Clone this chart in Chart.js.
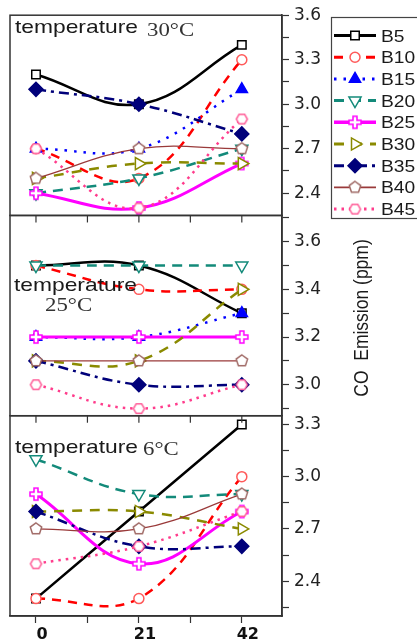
<!DOCTYPE html>
<html>
<head>
<meta charset="utf-8">
<title>CO emission</title>
<script src="https://cdn.jsdelivr.net/npm/chart.js"></script>
<style>
  body { margin: 0; background: #fff; }
  #co-chart { display: block; }
</style>
</head>
<body>
<canvas id="co-chart" width="417" height="642"></canvas>
<script>
// storage days on the x axis
var days = [0, 21, 42];
var blends = ['B5', 'B10', 'B15', 'B20', 'B25', 'B30', 'B35', 'B40', 'B45'];
var panelTemps = ['30\u00B0C', '25\u00B0C', '6\u00B0C'];

// CO emission (ppm), one row per blend (same order as blends)
var temp30 = [
  [3.2, 3.0, 3.4],
  [2.7, 2.5, 3.3],
  [2.7, 2.7, 3.1],
  [2.4, 2.5, 2.7],
  [2.4, 2.3, 2.6],
  [2.5, 2.6, 2.6],
  [3.1, 3.0, 2.8],
  [2.5, 2.7, 2.7],
  [2.7, 2.3, 2.9]
];
var temp25 = [
  [3.5, 3.5, 3.3],
  [3.5, 3.4, 3.4],
  [3.2, 3.2, 3.3],
  [3.5, 3.5, 3.5],
  [3.2, 3.2, 3.2],
  [3.1, 3.1, 3.4],
  [3.1, 3.0, 3.0],
  [3.1, 3.1, 3.1],
  [3.0, 2.9, 3.0]
];
var temp6 = [
  [2.3, 2.8, 3.3],
  [2.3, 2.3, 3.0],
  [null, null, null],
  [3.1, 2.9, 2.9],
  [2.9, 2.5, 2.8],
  [2.8, 2.8, 2.7],
  [2.8, 2.6, 2.6],
  [2.7, 2.7, 2.9],
  [2.5, 2.6, 2.8]
];

// tick labels of the three stacked y axes
var ticks30 = [2.4, 2.7, 3.0, 3.3, 3.6];
var ticks25 = [3.0, 3.2, 3.4, 3.6];
var ticks6 = [2.4, 2.7, 3.0, 3.3];

function polygonMarker(sides, r, color, start) {
  var c = document.createElement('canvas');
  var s = Math.ceil(2 * r + 4);
  c.width = s;
  c.height = s;
  var g = c.getContext('2d');
  g.beginPath();
  for (var k = 0; k < sides; k++) {
    var a = start + k * 2 * Math.PI / sides;
    var px = s / 2 + r * Math.cos(a);
    var py = s / 2 + r * Math.sin(a);
    if (k === 0) g.moveTo(px, py); else g.lineTo(px, py);
  }
  g.closePath();
  g.fillStyle = '#fff';
  g.fill();
  g.strokeStyle = color;
  g.lineWidth = 1.5;
  g.stroke();
  return c;
}

function plusMarker(r, a, color) {
  var c = document.createElement('canvas');
  var s = Math.ceil(2 * r + 4);
  c.width = s;
  c.height = s;
  var g = c.getContext('2d');
  var pts = [[-a, -r], [a, -r], [a, -a], [r, -a], [r, a], [a, a], [a, r], [-a, r], [-a, a], [-r, a], [-r, -a], [-a, -a]];
  g.beginPath();
  pts.forEach(function(p, k) {
    if (k === 0) g.moveTo(s / 2 + p[0], s / 2 + p[1]); else g.lineTo(s / 2 + p[0], s / 2 + p[1]);
  });
  g.closePath();
  g.fillStyle = '#fff';
  g.fill();
  g.strokeStyle = color;
  g.lineWidth = 1.5;
  g.stroke();
  return c;
}

var seriesStyle = [
  {color: '#000000', dash: [], width: 2.5, point: 'rect', radius: 6, fill: '#fff'},
  {color: '#ff0000', dash: [9, 7], width: 2.5, point: 'circle', radius: 5, fill: '#fff', pointColor: '#ff5a5a'},
  {color: '#0000ff', dash: [2.5, 7], width: 2.5, point: 'triangle', radius: 6.5, fill: '#0000ff'},
  {color: '#138a7a', dash: [10, 7], width: 2.5, point: 'triangle', rotation: 180, radius: 7, fill: '#fff'},
  {color: '#ff00ff', dash: [], width: 3, point: plusMarker(6, 2, '#ff00ff'), radius: 7},
  {color: '#8a8a00', dash: [10, 8], width: 2.5, point: 'triangle', rotation: 90, radius: 7, fill: '#fff'},
  {color: '#00007a', dash: [10, 5, 3, 5], width: 2.5, point: 'rectRot', radius: 7, fill: '#00007a'},
  {color: '#9a3a3a', dash: [], width: 1.3, point: polygonMarker(5, 6, '#a06a66', -Math.PI / 2), radius: 6},
  {color: '#ff3c8c', dash: [2.5, 5], width: 2.5, point: polygonMarker(6, 5.5, '#ff5a96', 0), radius: 6}
];

var datasets = [];
[[temp30, 'y30'], [temp25, 'y25'], [temp6, 'y6']].forEach(function(panel) {
  panel[0].forEach(function(row, i) {
    var st = seriesStyle[i];
    datasets.push({
      label: blends[i],
      yAxisID: panel[1],
      // later blends are painted on top, as in the original plot
      order: blends.length - i,
      data: days.map(function(d, k) { return {x: d, y: row[k]}; }),
      borderColor: st.color,
      borderWidth: st.width,
      borderDash: st.dash,
      tension: 0.4,
      fill: false,
      pointStyle: st.point,
      pointRadius: st.radius,
      pointRotation: st.rotation || 0,
      pointBackgroundColor: st.fill || '#fff',
      pointBorderColor: st.pointColor || st.color,
      pointBorderWidth: 1.5
    });
  });
});

function panelAxis(min, max, major, minor) {
  return {
    type: 'linear',
    position: 'right',
    stack: 'panels',
    stackWeight: 1,
    min: min,
    max: max,
    border: {display: true, color: '#333', width: 1.5},
    grid: {drawOnChartArea: false, drawTicks: true, tickLength: 7, color: '#333', tickWidth: 1.2},
    ticks: {
      autoSkip: false,
      padding: 5,
      color: '#222',
      font: {family: 'DejaVu Sans', size: 17},
      callback: function(v) {
        return major.indexOf(v) >= 0 ? v.toFixed(1) : '';
      }
    },
    afterBuildTicks: function(axis) {
      axis.ticks = major.concat(minor).sort().map(function(v) { return {value: v}; });
    },
    afterFit: function(axis) {
      axis.width = 135;
    }
  };
}

function stretchText(ctx, text, x, y, font, color) {
  ctx.save();
  ctx.translate(x, y);
  ctx.scale(1.2, 1);
  ctx.font = font;
  ctx.fillStyle = color;
  ctx.textAlign = 'left';
  ctx.textBaseline = 'alphabetic';
  ctx.fillText(text, 0, 0);
  ctx.restore();
}

// offsets of the "temperature" notes from each panel's top-left corner
var noteSpots = [
  {dx: 5, dy: 18, tx: 137, ty: 21},
  {dx: 4, dy: 76, tx: 35, ty: 96},
  {dx: 5, dy: 37, tx: 133, ty: 39}
];

var panelDecor = {
  id: 'panelDecor',
  afterDraw: function(chart) {
    var ctx = chart.ctx;
    var x = chart.scales.x;
    ctx.save();
    ctx.strokeStyle = '#333';
    ctx.lineWidth = 1.5;
    ['y30', 'y25', 'y6'].forEach(function(id, i) {
      var s = chart.scales[id];
      ctx.strokeRect(x.left, s.top, x.right - x.left, s.bottom - s.top);
      if (i > 0) {
        ctx.lineWidth = 1.2;
        x.ticks.forEach(function(t) {
          var px = x.getPixelForValue(t.value);
          ctx.beginPath();
          ctx.moveTo(px, s.top);
          ctx.lineTo(px, s.top + 7);
          ctx.stroke();
        });
        ctx.lineWidth = 1.5;
      }
      var spot = noteSpots[i];
      stretchText(ctx, 'temperature', x.left + spot.dx, s.top + spot.dy, '19px "Liberation Sans"', '#1a1a1a');
      stretchText(ctx, panelTemps[i], x.left + spot.tx, s.top + spot.ty, '19px "Liberation Serif"', '#333');
    });

    // legend box, partly cut off on the right like the original
    ctx.strokeStyle = '#444';
    ctx.lineWidth = 1.2;
    ctx.strokeRect(331.5, 17.5, 120, 201);
    blends.forEach(function(name, i) {
      var st = seriesStyle[i];
      var y = 35.5 + i * 21.7;
      ctx.save();
      ctx.strokeStyle = st.color;
      ctx.lineWidth = st.width + 0.5;
      ctx.setLineDash(st.dash);
      ctx.beginPath();
      ctx.moveTo(334, y);
      ctx.lineTo(376, y);
      ctx.stroke();
      ctx.setLineDash([]);
      ctx.fillStyle = st.fill || '#fff';
      ctx.strokeStyle = st.pointColor || st.color;
      ctx.lineWidth = 1.5;
      Chart.helpers.drawPoint(ctx, {pointStyle: st.point, radius: st.radius, rotation: st.rotation || 0, borderWidth: 1.5}, 355, y);
      ctx.restore();
      stretchText(ctx, name, 381, y + 6, '16px "Liberation Sans"', '#1a1a1a');
    });

    // y axis title, reading upwards
    ctx.save();
    ctx.translate(362, 318);
    ctx.rotate(-Math.PI / 2);
    ctx.scale(1, 1.2);
    ctx.font = '17.5px "Liberation Sans"';
    ctx.fillStyle = '#1a1a1a';
    ctx.textAlign = 'center';
    ctx.textBaseline = 'middle';
    ctx.fillText('CO  Emission (ppm)', 0, 0);
    ctx.restore();
    ctx.restore();
  }
};

var ctx = document.getElementById('co-chart').getContext('2d');
var coChart = new Chart(ctx, {
  type: 'line',
  data: {datasets: datasets},
  plugins: [panelDecor],
  options: {
    responsive: false,
    animation: false,
    layout: {padding: {left: 10, top: 15, right: 0, bottom: 0}},
    plugins: {
      legend: {display: false},
      tooltip: {enabled: false}
    },
    scales: {
      y30: panelAxis(2.25, 3.6, ticks30, [2.55, 2.85, 3.15, 3.45]),
      y25: panelAxis(2.87, 3.71, ticks25, [2.9, 3.1, 3.3, 3.5, 3.7]),
      y6: panelAxis(2.2, 3.35, ticks6, [2.25, 2.55, 2.85, 3.15]),
      x: {
        type: 'linear',
        position: 'bottom',
        min: -5.3,
        max: 50.2,
        border: {display: true, color: '#333', width: 1.5},
        grid: {drawOnChartArea: false, drawTicks: true, tickLength: 7, color: '#333', tickWidth: 1.2},
        ticks: {
          autoSkip: false,
          padding: 2,
          labelOffset: 6,
          color: '#111',
          font: {family: 'DejaVu Sans', size: 16, weight: 'bold'},
          callback: function(v) {
            return days.indexOf(v) >= 0 ? String(v) : '';
          }
        },
        afterBuildTicks: function(axis) {
          axis.ticks = [0, 10.5, 21, 31.5, 42].map(function(v) { return {value: v}; });
        },
        afterFit: function(axis) {
          axis.height = 26;
        }
      }
    }
  }
});
</script>
</body>
</html>
